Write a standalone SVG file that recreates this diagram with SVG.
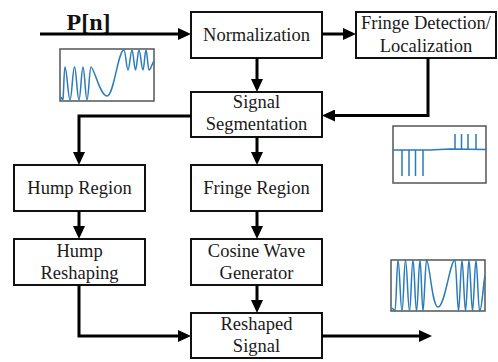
<svg xmlns="http://www.w3.org/2000/svg" width="498" height="362" viewBox="0 0 498 362">
<style>
.box{fill:#fff;stroke:#111;stroke-width:2}
.t{font-family:"Liberation Serif","Times New Roman",serif;font-size:18.5px;fill:#1a1a1a;text-anchor:middle}
.c{fill:none;stroke:#000;stroke-width:3;marker-end:url(#ah)}
.plot{fill:#fff;stroke:#555;stroke-width:1.5}
.sig{fill:none;stroke:#2b7bb9;stroke-width:1.5;stroke-linejoin:round}
</style>
<defs>
<marker id="ah" markerUnits="userSpaceOnUse" markerWidth="14" markerHeight="12" viewBox="0 0 13 12" refX="3" refY="6" orient="auto">
<path d="M0,0 L13,6 L0,12 z" fill="#000"/>
</marker>
</defs>
<rect width="498" height="362" fill="#fff"/>

<g id="input-label">
<text x="88.5" y="30" style="font-family:'Liberation Serif','Times New Roman',serif;font-size:24px;font-weight:bold;fill:#111" text-anchor="middle">P[n]</text>
</g>

<g id="normalization"><rect class="box" x="191" y="12" width="131" height="46"/><text class="t" x="256.5" y="41">Normalization</text></g>
<g id="fringe-detection"><rect class="box" x="356" y="12" width="140" height="46"/><text class="t" x="426" y="29">Fringe Detection/</text><text class="t" x="426" y="52">Localization</text></g>
<g id="signal-segmentation"><rect class="box" x="191" y="92" width="131" height="45"/><text class="t" x="256.5" y="108">Signal</text><text class="t" x="256.5" y="130">Segmentation</text></g>
<g id="hump-region"><rect class="box" x="14" y="165" width="131" height="46"/><text class="t" x="79.5" y="194">Hump Region</text></g>
<g id="fringe-region"><rect class="box" x="191" y="165" width="131" height="46"/><text class="t" x="256.5" y="194">Fringe Region</text></g>
<g id="hump-reshaping"><rect class="box" x="14" y="239" width="131" height="46"/><text class="t" x="79.5" y="257">Hump</text><text class="t" x="79.5" y="279">Reshaping</text></g>
<g id="cosine-wave"><rect class="box" x="191" y="239" width="131" height="46"/><text class="t" x="256.5" y="257">Cosine Wave</text><text class="t" x="256.5" y="279">Generator</text></g>
<g id="reshaped-signal"><rect class="box" x="191" y="313" width="131" height="45"/><text class="t" x="256.5" y="330">Reshaped</text><text class="t" x="256.5" y="352">Signal</text></g>

<g id="connectors">
<path class="c" d="M40,34 H181"/>
<path class="c" d="M322,34 H346"/>
<path class="c" d="M257,58 V82"/>
<path class="c" d="M428,58 V115.5 H332"/>
<path class="c" d="M191,116 H79 V155"/>
<path class="c" d="M257,137 V155"/>
<path class="c" d="M79,211 V229"/>
<path class="c" d="M257,211 V229"/>
<path class="c" d="M257,285 V303"/>
<path class="c" d="M79,285 V336 H181"/>
<path class="c" d="M322,336 H422"/>
</g>

<g id="plot-input">
<rect class="plot" x="60" y="49" width="94" height="52"/>
<path class="sig" d="M61,97 Q62,100 63,99 C63.8,92 64,67 65,67 C66.8,67 68.2,100 70,100 C71.8,100 72.7,67 74.5,67 C76.3,67 77.2,100 79,100 C80.5,100 81.5,67 83,67 C84.5,67 85.5,100 87,100 C88.5,100 89.5,67 91,67 C94,67 100,96 107,96 C114,96 118,50 124,50 C125.5,50 126.5,70 128,70 C129.5,70 130.5,50 132,50 C133.3,50 134.2,70 135.5,70 C136.8,70 137.7,50 139,50 C140.5,50 141.5,70 143,70 C144.2,70 144.8,50 146,50 C147.2,50 147.8,70 149,70 C151,70 152,63 154,61"/>
</g>

<g id="plot-fringe">
<rect class="plot" x="393" y="126" width="93" height="57"/>
<path class="sig" d="M393,150 L430,150 L450,149 L486,149.5"/>
<path class="sig" d="M402,150 V176 M409,150 V176 M415.5,150 V176 M423,150 V176 M455,149 V134 M461.5,149 V134 M468,149 V134 M476,149 V134"/>
</g>

<g id="plot-output">
<rect class="plot" x="391" y="260" width="94" height="51"/>
<path class="sig" d="M392,308 Q394,310 395,311 C396.2,311 396.8,260 398,260 C399.6,260 400.4,311 402,311 C403.5,311 404,260 405.5,260 C407,260 408,311 409.5,311 C411,311 411.5,260 413,260 C414.4,260 415.1,311 416.5,311 C418,311 418.6,260 420,260 C421.2,260 421.8,311 423,311 C424.2,311 425.3,260 426.5,260 C429.5,260 432,307 438,307 C445,307 450,260 455,260 C456.2,260 457.3,311 458.5,311 C459.8,311 460.7,260 462,260 C463.2,260 464.3,311 465.5,311 C466.8,311 467.7,260 469,260 C470.2,260 471.3,311 472.5,311 C473.8,311 474.7,260 476,260 C477.2,260 478.3,311 479.5,311 C482,311 483,285 485,276"/>
</g>
</svg>
